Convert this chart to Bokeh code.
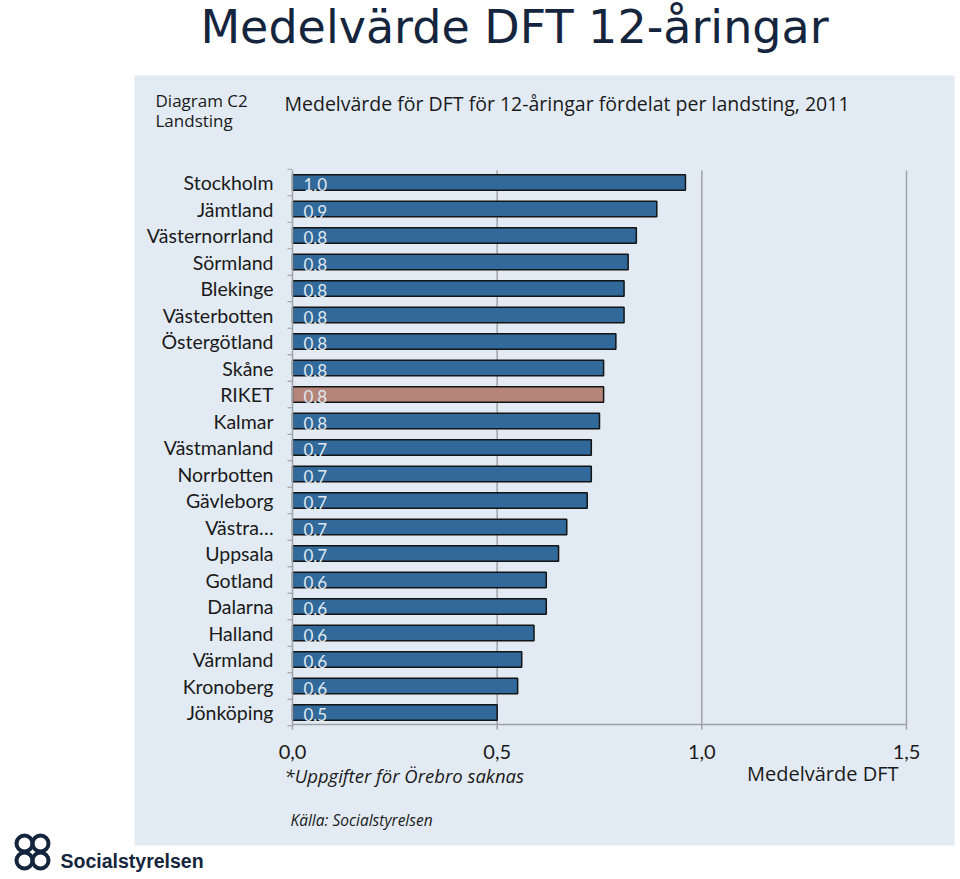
from bokeh.plotting import figure
from bokeh.models import Range1d, ColumnDataSource
from bokeh.core.properties import value
from bokeh.embed import file_html
from bokeh.resources import INLINE

# ---- data ----
regions = ["Stockholm", "Jämtland", "Västernorrland", "Sörmland", "Blekinge",
           "Västerbotten", "Östergötland", "Skåne", "RIKET", "Kalmar",
           "Västmanland", "Norrbotten", "Gävleborg", "Västra…", "Uppsala",
           "Gotland", "Dalarna", "Halland", "Värmland", "Kronoberg", "Jönköping"]
dft = [0.96, 0.89, 0.84, 0.82, 0.81, 0.81, 0.79, 0.76, 0.76, 0.75,
       0.73, 0.73, 0.72, 0.67, 0.65, 0.62, 0.62, 0.59, 0.56, 0.55, 0.50]
bar_labels = ["1,0", "0,9", "0,8", "0,8", "0,8", "0,8", "0,8", "0,8", "0,8", "0,8",
              "0,7", "0,7", "0,7", "0,7", "0,7", "0,6", "0,6", "0,6", "0,6", "0,6", "0,5"]
x_ticks = [0.0, 0.5, 1.0, 1.5]
x_tick_labels = ["0,0", "0,5", "1,0", "1,5"]

BLUE = "#31699a"
RIKET_COL = "#b5857a"
NAVY = "#14253d"
PANEL = "#e2ebf3"
AXIS = "#9ea3a8"

W, H = 958, 877
# picture-pixel helpers
X0, XS = 292.0, 409.33   # pixel x of value 0, px per unit
Y0, YS = 182.0, 26.5     # pixel y of first row, px per row


def X(px):
    return (px - X0) / XS


def Y(py):
    return (py - Y0) / YS


p = figure(width=W, height=H, output_backend="svg", toolbar_location=None,
           x_range=Range1d(X(0), X(W)), y_range=Range1d(Y(H), Y(0)),
           min_border=0, border_fill_color="white", background_fill_color="white",
           outline_line_color=None)
p.axis.visible = False
p.grid.visible = False

# panel
p.quad(left=[X(134)], right=[X(954)], top=[Y(75)], bottom=[Y(845)],
       fill_color=PANEL, line_color=None)

rows = list(range(len(regions)))
n = len(regions)
top_y = -0.45
bot_y = n - 0.55

# grid lines
grid_x = [t for t in x_ticks if t > 0]
p.segment(x0=grid_x, x1=grid_x, y0=[top_y] * 3, y1=[bot_y] * 3,
          line_color=AXIS, line_width=1.5)

# bars
colors = [RIKET_COL if r == "RIKET" else BLUE for r in regions]
src = ColumnDataSource(dict(y=rows, v=dft, c=colors, lab=bar_labels, name=regions,
                            zero=[0.0] * n))
p.hbar(y="y", left="zero", right="v", height=0.58, fill_color="c",
       line_color="#141414", line_width=1.5, source=src)

# y axis line and ticks
p.segment(x0=[0], x1=[0], y0=[top_y], y1=[bot_y], line_color=AXIS, line_width=1.5)
bounds = [i - 0.5 for i in range(n + 1)]
p.segment(x0=[X(287)] * len(bounds), x1=[0] * len(bounds), y0=bounds, y1=bounds,
          line_color=AXIS, line_width=1.2)
# x axis line and ticks
p.segment(x0=[0], x1=[1.5], y0=[bot_y], y1=[bot_y], line_color=AXIS, line_width=1.5)
p.segment(x0=x_ticks, x1=x_ticks, y0=[bot_y] * 4, y1=[Y(729)] * 4,
          line_color=AXIS, line_width=1.5)

# category labels
p.text(x=X(273), y="y", text="name", source=src, text_align="right",
       text_baseline="middle", text_font=value("Lato"), text_font_size="19.5px",
       text_color="#1a1a1a")
# bar value labels
p.text(x=X(303), y="y", text="lab", source=src, text_align="left",
       text_baseline="middle", text_font=value("Lato"), text_font_size="17px",
       text_color="#dfe8f1", y_offset=2)
# x tick labels
p.text(x=x_ticks, y=[Y(751)] * 4, text=x_tick_labels, text_align="center",
       text_baseline="middle", text_font=value("Lato"), text_font_size="20px",
       text_color="#1a1a1a")

# titles and notes
p.text(x=[X(514)], y=[Y(26)], text=["Medelvärde DFT 12-åringar"], text_align="center",
       text_baseline="middle", text_font=value("DejaVu Sans"), text_font_size="46px",
       text_color=NAVY)
p.text(x=[X(284)], y=[Y(103)], text=["Medelvärde för DFT för 12-åringar fördelat per landsting, 2011"],
       text_align="left", text_baseline="middle", text_font=value("Open Sans"),
       text_font_size="19.5px", text_color="#1a1a1a")
p.text(x=[X(155), X(155)], y=[Y(100), Y(120)], text=["Diagram C2", "Landsting"],
       text_align="left", text_baseline="middle", text_font=value("Open Sans"),
       text_font_size="17px", text_color="#1a1a1a")
p.text(x=[X(284)], y=[Y(775)], text=["*Uppgifter för Örebro saknas"], text_align="left",
       text_baseline="middle", text_font=value("Open Sans"), text_font_size="18.5px",
       text_font_style="italic", text_color="#1a1a1a")
p.text(x=[X(898)], y=[Y(773)], text=["Medelvärde DFT"], text_align="right",
       text_baseline="middle", text_font=value("Open Sans"), text_font_size="20px",
       text_color="#1a1a1a")
p.text(x=[X(290)], y=[Y(819)], text=["Källa: Socialstyrelsen"], text_align="left",
       text_baseline="middle", text_font=value("Open Sans"), text_font_size="15.5px",
       text_font_style="italic", text_color="#1a1a1a")

# logo
p.circle(x=[X(24), X(40), X(24), X(40)], y=[Y(843), Y(843), Y(860), Y(860)],
         radius=8, radius_units="screen", fill_color=None, line_color=NAVY, line_width=4)
p.text(x=[X(60)], y=[Y(860)], text=["Socialstyrelsen"], text_align="left",
       text_baseline="middle", text_font=value("Liberation Sans"),
       text_font_size="19.5px", text_font_style="bold", text_color=NAVY)

open("out.html", "w").write(file_html(p, INLINE))
